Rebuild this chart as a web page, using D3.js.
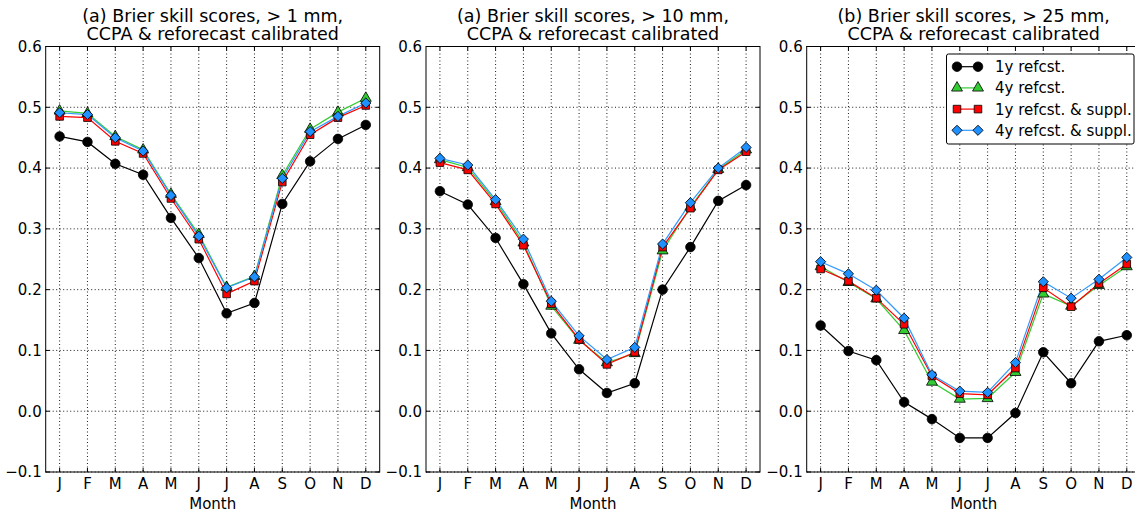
<!DOCTYPE html>
<html><head><meta charset="utf-8">
<script src="https://cdn.jsdelivr.net/npm/d3@7"></script>
<style>body{margin:0;background:#fff}svg{display:block;font-family:"DejaVu Sans",sans-serif}</style>
</head><body><svg id="c" width="1135" height="513"></svg>
<script>
const months = ["J","F","M","A","M","J","J","A","S","O","N","D"];
const yTicks = [-0.1,0.0,0.1,0.2,0.3,0.4,0.5,0.6];
const titles = [
  ["(a) Brier skill scores, > 1 mm,","CCPA & reforecast calibrated"],
  ["(a) Brier skill scores, > 10 mm,","CCPA & reforecast calibrated"],
  ["(b) Brier skill scores, > 25 mm,","CCPA & reforecast calibrated"]
];
const seriesNames = ["1y refcst.","4y refcst.","1y refcst. & suppl.","4y refcst. & suppl."];
// panel 1: > 1 mm
const p1_1y  = [0.452,0.443,0.407,0.389,0.318,0.252,0.161,0.178,0.341,0.411,0.448,0.471];
const p1_4y  = [0.494,0.490,0.452,0.430,0.357,0.291,0.204,0.222,0.388,0.464,0.492,0.515];
const p1_1ys = [0.485,0.483,0.444,0.424,0.350,0.283,0.193,0.214,0.377,0.455,0.483,0.503];
const p1_4ys = [0.491,0.488,0.450,0.428,0.355,0.288,0.203,0.221,0.383,0.460,0.485,0.507];
// panel 2: > 10 mm
const p2_1y  = [0.362,0.340,0.285,0.209,0.128,0.069,0.030,0.046,0.200,0.270,0.346,0.372];
const p2_4y  = [0.414,0.401,0.345,0.277,0.173,0.117,0.080,0.095,0.264,0.336,0.398,0.430];
const p2_1ys = [0.409,0.397,0.341,0.273,0.177,0.118,0.077,0.097,0.270,0.334,0.397,0.427];
const p2_4ys = [0.416,0.405,0.348,0.283,0.181,0.124,0.085,0.105,0.275,0.343,0.400,0.434];
// panel 3: > 25 mm
const p3_1y  = [0.141,0.099,0.084,0.015,-0.013,-0.044,-0.044,-0.003,0.097,0.046,0.115,0.125];
const p3_4y  = [0.238,0.212,0.185,0.133,0.048,0.020,0.021,0.064,0.193,0.173,0.207,0.238];
const p3_1ys = [0.234,0.214,0.186,0.143,0.058,0.029,0.027,0.071,0.203,0.172,0.210,0.242];
const p3_4ys = [0.246,0.226,0.199,0.153,0.060,0.033,0.031,0.080,0.213,0.186,0.217,0.253];

const panelData = [[p1_1y,p1_4y,p1_1ys,p1_4ys],[p2_1y,p2_4y,p2_1ys,p2_4ys],[p3_1y,p3_4y,p3_1ys,p3_4ys]];
const lineColors = ["#000000","#33cc33","#ff0000","#3399ff"];
const fillColors = ["#000000","#33cc33","#ff0000","#1e90ff"];
const symbols = [d3.symbolCircle,d3.symbolTriangle,d3.symbolSquare,d3.symbolSquare];
const symSizes = [72,52,58,52];

const svg = d3.select("#c");
const lefts = [45.7,426,806.7];
const W = 334, plotTop = 46.5, plotBottom = 472;
const fmt = v => (v<0?"\u2212":"")+Math.abs(v).toFixed(1);

function marker(g, i, x, y){
  g.append("path").attr("d", d3.symbol().type(symbols[i]).size(symSizes[i])())
   .attr("transform", `translate(${x},${y})`+(i===3?" rotate(45)":""))
   .attr("fill", fillColors[i]).attr("stroke","#000").attr("stroke-width",0.8);
}

lefts.forEach((L,p)=>{
  const x = d3.scaleLinear().domain([0.5,12.5]).range([L,L+W]);
  const y = d3.scaleLinear().domain([-0.1,0.6]).range([plotBottom,plotTop]);
  const g = svg.append("g");
  const clipId = "clip"+p;
  svg.append("clipPath").attr("id",clipId).append("rect").attr("x",L-6).attr("y",plotTop-6).attr("width",W+12).attr("height",plotBottom-plotTop+12);
  // grid
  const grid = g.append("g").attr("stroke","#000").attr("stroke-width",0.9).attr("stroke-dasharray","1,2.5");
  months.forEach((m,i)=>grid.append("line").attr("x1",x(i+1)).attr("x2",x(i+1)).attr("y1",plotTop).attr("y2",plotBottom));
  yTicks.forEach(t=>grid.append("line").attr("x1",L).attr("x2",L+W).attr("y1",y(t)).attr("y2",y(t)));
  // ticks inward
  const tk = g.append("g").attr("stroke","#000").attr("stroke-width",1);
  months.forEach((m,i)=>{
    tk.append("line").attr("x1",x(i+1)).attr("x2",x(i+1)).attr("y1",plotBottom).attr("y2",plotBottom-4);
    tk.append("line").attr("x1",x(i+1)).attr("x2",x(i+1)).attr("y1",plotTop).attr("y2",plotTop+4);
  });
  yTicks.forEach(t=>{
    tk.append("line").attr("x1",L).attr("x2",L+4).attr("y1",y(t)).attr("y2",y(t));
    tk.append("line").attr("x1",L+W).attr("x2",L+W-4).attr("y1",y(t)).attr("y2",y(t));
  });
  // series
  const dg = g.append("g").attr("clip-path",`url(#${clipId})`);
  panelData[p].forEach((vals,si)=>{
    dg.append("path").datum(vals)
      .attr("d", d3.line().x((d,i)=>x(i+1)).y(d=>y(d)))
      .attr("fill","none").attr("stroke",lineColors[si]).attr("stroke-width",1.2);
  });
  panelData[p].forEach((vals,si)=>{
    vals.forEach((v,i)=>marker(dg,si,x(i+1),y(v)));
  });
  // frame
  g.append("rect").attr("x",L).attr("y",plotTop).attr("width",W).attr("height",plotBottom-plotTop)
    .attr("fill","none").attr("stroke","#000").attr("stroke-width",1);
  // tick labels
  yTicks.forEach(t=>g.append("text").attr("x",L-4).attr("y",y(t)).attr("dy","0.36em")
    .attr("text-anchor","end").attr("font-size",15).text(fmt(t)));
  months.forEach((m,i)=>g.append("text").attr("x",x(i+1)).attr("y",plotBottom+17).attr("text-anchor","middle")
    .attr("font-size",15).text(m));
  g.append("text").attr("x",L+W/2).attr("y",plotBottom+37).attr("text-anchor","middle").attr("font-size",15).text("Month");
  titles[p].forEach((t,k)=>g.append("text").attr("x",L+W/2).attr("y",22+k*18).attr("text-anchor","middle")
    .attr("font-size",17.5).text(t));
  // legend
  if(p===2){
    const lg = g.append("g");
    lg.append("rect").attr("x",946.5).attr("y",54).attr("width",187.5).attr("height",90).attr("rx",2)
      .attr("fill","#fff").attr("stroke","#000").attr("stroke-width",1);
    seriesNames.forEach((n,si)=>{
      const yy = 66.7 + si*21.2;
      lg.append("line").attr("x1",957).attr("x2",978).attr("y1",yy).attr("y2",yy).attr("stroke",lineColors[si]).attr("stroke-width",1.2);
      marker(lg,si,957,yy); marker(lg,si,978,yy);
      lg.append("text").attr("x",995).attr("y",yy).attr("dy","0.36em").attr("font-size",15).text(n);
    });
  }
});
</script></body></html>
